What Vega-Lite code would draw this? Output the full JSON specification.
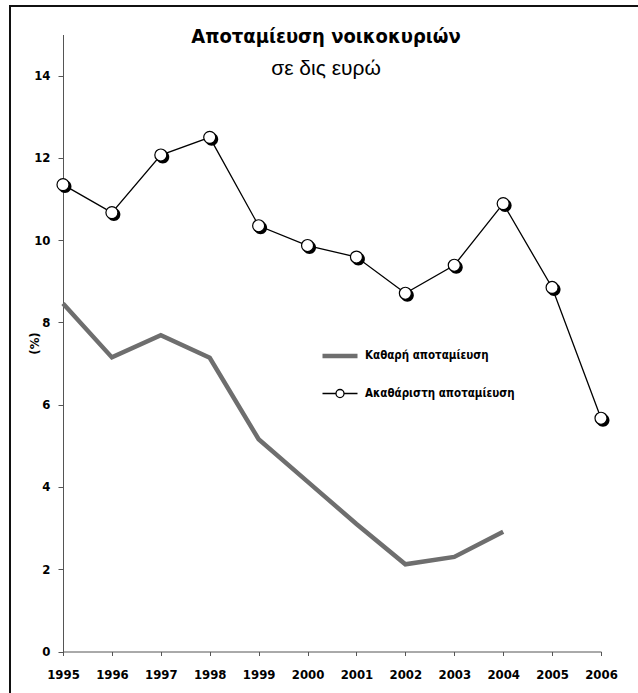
{
  "$schema": "https://vega.github.io/schema/vega-lite/v6.json",
  "autosize": {"type": "none"},
  "width": 630,
  "height": 689,
  "padding": {"left": 10, "top": 6, "right": -2, "bottom": -2},
  "background": "white",
  "config": {
    "view": {"stroke": "#111111", "strokeWidth": 2},
    "font": "DejaVu Sans Condensed, Liberation Sans, sans-serif",
    "axis": {"grid": false, "domainColor": "#555555", "tickColor": "#555555", "labelColor": "#000000", "labelFont": "DejaVu Sans Condensed, Liberation Sans, sans-serif", "labelFontWeight": "bold", "labelFontSize": 13}
  },
  "title": {
    "text": "Αποταμίευση νοικοκυριών",
    "subtitle": "σε δις ευρώ",
    "anchor": "middle",
    "orient": "top",
    "offset": -73,
    "dx": 1,
    "font": "DejaVu Sans Condensed, Liberation Sans, sans-serif",
    "fontSize": 20,
    "fontWeight": "bold",
    "color": "#000000",
    "subtitleFont": "Liberation Sans, sans-serif",
    "subtitleFontSize": 21,
    "subtitleColor": "#000000",
    "subtitlePadding": 11
  },
  "data": {
    "values": [
      {"year": 1995, "series": "Καθαρή αποταμίευση", "value": 8.46},
      {"year": 1996, "series": "Καθαρή αποταμίευση", "value": 7.15},
      {"year": 1997, "series": "Καθαρή αποταμίευση", "value": 7.69},
      {"year": 1998, "series": "Καθαρή αποταμίευση", "value": 7.14},
      {"year": 1999, "series": "Καθαρή αποταμίευση", "value": 5.16},
      {"year": 2000, "series": "Καθαρή αποταμίευση", "value": 4.13},
      {"year": 2001, "series": "Καθαρή αποταμίευση", "value": 3.1},
      {"year": 2002, "series": "Καθαρή αποταμίευση", "value": 2.12},
      {"year": 2003, "series": "Καθαρή αποταμίευση", "value": 2.3},
      {"year": 2004, "series": "Καθαρή αποταμίευση", "value": 2.91},
      {"year": 1995, "series": "Ακαθάριστη αποταμίευση", "value": 11.35},
      {"year": 1996, "series": "Ακαθάριστη αποταμίευση", "value": 10.67},
      {"year": 1997, "series": "Ακαθάριστη αποταμίευση", "value": 12.07},
      {"year": 1998, "series": "Ακαθάριστη αποταμίευση", "value": 12.5},
      {"year": 1999, "series": "Ακαθάριστη αποταμίευση", "value": 10.35},
      {"year": 2000, "series": "Ακαθάριστη αποταμίευση", "value": 9.87},
      {"year": 2001, "series": "Ακαθάριστη αποταμίευση", "value": 9.59},
      {"year": 2002, "series": "Ακαθάριστη αποταμίευση", "value": 8.71},
      {"year": 2003, "series": "Ακαθάριστη αποταμίευση", "value": 9.39},
      {"year": 2004, "series": "Ακαθάριστη αποταμίευση", "value": 10.89},
      {"year": 2005, "series": "Ακαθάριστη αποταμίευση", "value": 8.85},
      {"year": 2006, "series": "Ακαθάριστη αποταμίευση", "value": 5.67}
    ]
  },
  "encoding": {
    "x": {
      "field": "year", "type": "quantitative",
      "scale": {"domain": [1995, 2006], "range": [53, 591], "nice": false, "zero": false},
      "axis": {"title": null, "values": [1995, 1996, 1997, 1998, 1999, 2000, 2001, 2002, 2003, 2004, 2005, 2006], "format": "d", "offset": -43.5, "tickSize": 4, "labelPadding": 13, "labelFlush": false, "labelOverlap": false}
    },
    "y": {
      "field": "value", "type": "quantitative",
      "scale": {"domain": [0, 15], "range": [645.5, 28.5], "nice": false},
      "axis": {"title": "(%)", "values": [0, 2, 4, 6, 8, 10, 12, 14], "offset": -53, "tickSize": 5, "labelPadding": 8, "titleFont": "DejaVu Sans Condensed, Liberation Sans, sans-serif", "titleFontWeight": "bold", "titleFontSize": 13, "titleColor": "#000000", "titlePadding": -8}
    }
  },
  "layer": [
    {
      "mark": {"type": "line", "strokeJoin": "miter"},
      "encoding": {
        "color": {
          "field": "series", "type": "nominal",
          "scale": {"domain": ["Καθαρή αποταμίευση", "Ακαθάριστη αποταμίευση"], "range": ["#6e6e6e", "#000000"]},
          "legend": {
            "orient": "none", "legendX": 310, "legendY": 330, "title": null, "padding": 0,
            "symbolSize": 1225, "labelFont": "DejaVu Sans Condensed, Liberation Sans, sans-serif", "labelFontWeight": "bold", "labelFontSize": 11.5, "labelColor": "#000000", "labelOffset": 5, "rowPadding": 10,
            "encode": {
              "symbols": {
                "update": {
                  "shape": {"signal": "datum.value === 'Καθαρή αποταμίευση' ? 'M-1,0H1' : 'M-1,0H-0.23M0.23,0H1M0.23,0A0.23,0.23 0 1,1 -0.23,0A0.23,0.23 0 1,1 0.23,0Z'"},
                  "strokeWidth": {"signal": "datum.value === 'Καθαρή αποταμίευση' ? 4.5 : 1.2"},
                  "fill": {"value": "white"},
                  "fillOpacity": {"value": 1}
                }
              }
            }
          }
        },
        "strokeWidth": {
          "field": "series", "type": "nominal",
          "scale": {"domain": ["Καθαρή αποταμίευση", "Ακαθάριστη αποταμίευση"], "range": [4.5, 1.3]},
          "legend": null
        }
      }
    },
    {
      "transform": [{"filter": "datum.series === 'Ακαθάριστη αποταμίευση'"}],
      "mark": {"type": "point", "shape": "M1.3,0.3A1,1 0 1,1 -0.7,0.3A1,1 0 1,1 1.3,0.3Z", "filled": true, "fill": "#000000", "size": 169, "opacity": 1, "strokeWidth": 0}
    },
    {
      "transform": [{"filter": "datum.series === 'Ακαθάριστη αποταμίευση'"}],
      "mark": {"type": "point", "shape": "circle", "filled": false, "fill": "#ffffff", "fillOpacity": 1, "stroke": "#000000", "strokeWidth": 1.2, "size": 144, "opacity": 1}
    }
  ]
}
